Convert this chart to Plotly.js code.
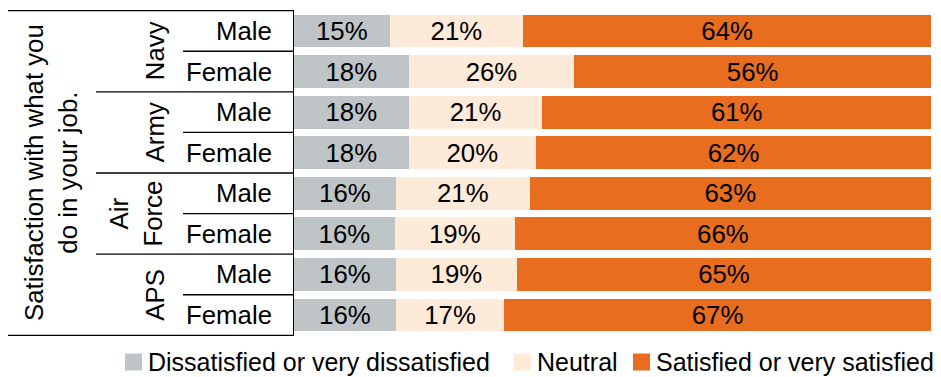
<!DOCTYPE html>
<html>
<head>
<meta charset="utf-8">
<script src="https://cdn.plot.ly/plotly-3.0.1.min.js"></script>
<style>
  html, body { margin: 0; padding: 0; background: #ffffff; }
  #chart { width: 941px; height: 377px; }
</style>
</head>
<body>
<div id="chart"></div>
<script>
// Satisfaction with what you do in your job, by service and gender (percent)
const groups = ['Navy', 'Army', 'Air<br>Force', 'APS'];
const genders = ['Male', 'Female'];
const rowKeys = ['Navy Male', 'Navy Female', 'Army Male', 'Army Female',
                 'Air Force Male', 'Air Force Female', 'APS Male', 'APS Female'];

const dissatisfied = [15, 18, 18, 18, 16, 16, 16, 16];
const neutral      = [21, 26, 21, 20, 21, 19, 19, 17];
const satisfied    = [64, 56, 61, 62, 63, 66, 65, 67];

const seriesNames = ['Dissatisfied or very dissatisfied', 'Neutral', 'Satisfied or very satisfied'];
const seriesColors = ['#BFC4C7', '#FDEAD9', '#E86D1F'];
const axisTitle = 'Satisfaction with what you<br>do in your job.';

const FONT = '"Liberation Sans", Arial, sans-serif';
const FS = 25.8;      // labels inside and beside the bars
const FS_KEY = 25;    // legend row

const seriesValues = [dissatisfied, neutral, satisfied];
const traces = seriesValues.map((vals, i) => ({
  type: 'bar',
  orientation: 'h',
  name: seriesNames[i],
  x: vals,
  y: rowKeys,
  text: vals.map(v => v + '%'),
  textposition: 'inside',
  insidetextanchor: 'middle',
  constraintext: 'none',
  textfont: { family: FONT, size: FS, color: '#000000' },
  marker: { color: seriesColors[i], line: { width: 0 } },
  hoverinfo: 'skip'
}));

// Plot area: x 294..931, y 10..336 (pixels)
const PL = 294, PW = 637, PT = 10, PH = 326;
const px = p => (p - PL) / PW;
const py = p => (PT + PH - p) / PH;

const shapes = [];
const rule = (x0, y0, x1, y1) => ({
  type: 'line', xref: 'paper', yref: 'y', x0: x0, x1: x1, y0: y0, y1: y1,
  line: { color: '#000000', width: 1.3 }
});
// outer top and bottom rules of the label column
shapes.push(rule(px(8), -0.5, px(293), -0.5));
shapes.push(rule(px(8), rowKeys.length - 0.5, px(293), rowKeys.length - 0.5));
// group dividers
for (let g = 1; g < groups.length; g++) {
  shapes.push(rule(px(96), g * 2 - 0.5, px(293), g * 2 - 0.5));
}
// gender dividers inside each group
for (let g = 0; g < groups.length; g++) {
  shapes.push(rule(px(183), g * 2 + 0.5, px(293), g * 2 + 0.5));
}

const annotations = [];
rowKeys.forEach((k, i) => {
  annotations.push({
    xref: 'paper', yref: 'y', x: px(274), y: i, xanchor: 'right', yanchor: 'middle',
    text: genders[i % 2], showarrow: false,
    font: { family: FONT, size: FS, color: '#000000' }
  });
});
groups.forEach((g, i) => {
  const twoLine = g.indexOf('<br>') >= 0;
  annotations.push({
    xref: 'paper', yref: 'y', x: px(twoLine ? 136 : 155), y: i * 2 + 0.5,
    xanchor: 'center', yanchor: 'middle', textangle: -90,
    text: g, showarrow: false,
    font: { family: FONT, size: FS, color: '#000000' }
  });
});
annotations.push({
  xref: 'paper', yref: 'y', x: px(51), y: (rowKeys.length - 1) / 2,
  xanchor: 'center', yanchor: 'middle', textangle: -90,
  text: axisTitle, showarrow: false,
  font: { family: FONT, size: FS, color: '#000000' }
});

// Legend row below the bars: colour key squares and their labels
const keyLeft = [125, 514, 633];
const keySize = 17;
const keyMid = 362;
seriesNames.forEach((name, i) => {
  shapes.push({
    type: 'rect', xref: 'paper', yref: 'paper',
    x0: px(keyLeft[i]), x1: px(keyLeft[i] + keySize),
    y0: py(keyMid + keySize / 2), y1: py(keyMid - keySize / 2),
    fillcolor: seriesColors[i], line: { width: 0 }
  });
  annotations.push({
    xref: 'paper', yref: 'paper', x: px(keyLeft[i] + keySize + 4), y: py(keyMid),
    xanchor: 'left', yanchor: 'middle', text: name, showarrow: false,
    font: { family: FONT, size: FS_KEY, color: '#000000' }
  });
});

const layout = {
  width: 941,
  height: 377,
  margin: { l: PL, r: 941 - PL - PW, t: PT, b: 377 - PT - PH, pad: 0 },
  paper_bgcolor: '#ffffff',
  plot_bgcolor: '#ffffff',
  barmode: 'stack',
  barnorm: 'percent',
  bargap: 0.19,
  showlegend: false,
  xaxis: {
    range: [0, 100], visible: false, fixedrange: true
  },
  yaxis: {
    type: 'category',
    categoryorder: 'array',
    categoryarray: rowKeys,
    autorange: 'reversed',
    showticklabels: false,
    ticks: '',
    showgrid: false,
    zeroline: false,
    showline: true,
    linecolor: '#000000',
    linewidth: 1.3,
    fixedrange: true
  },
  shapes: shapes,
  annotations: annotations,
  font: { family: FONT, size: FS, color: '#000000' }
};

Plotly.newPlot('chart', traces, layout, { displayModeBar: false, staticPlot: true });
</script>
</body>
</html>
